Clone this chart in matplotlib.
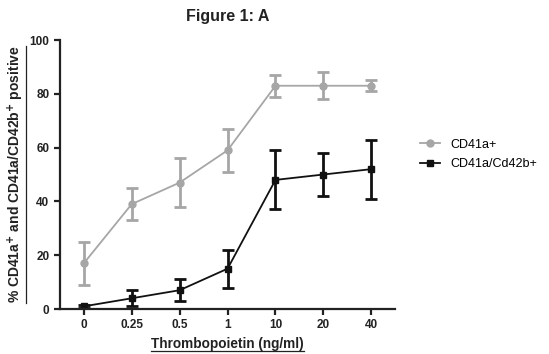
import matplotlib
matplotlib.use('Agg')
from matplotlib import pyplot as plt
from matplotlib.lines import Line2D

plt.rcParams['font.family'] = ['Liberation Sans', 'DejaVu Sans']

# data
doses = ['0', '0.25', '0.5', '1', '10', '20', '40']
cd41a = [17, 39, 47, 59, 83, 83, 83]
cd41a_err = [8, 6, 9, 8, 4, 5, 2]
cd42b = [1, 4, 7, 15, 48, 50, 52]
cd42b_err = [0.5, 3, 4, 7, 11, 8, 11]

xpos = list(range(len(doses)))

f = plt.figure(figsize=(5.49, 3.54), dpi=100)
ax = f.add_axes([0.109, 0.127, 0.611, 0.76])

gray = '#a6a6a6'
dark = '#111111'
ax.errorbar(xpos, cd41a, yerr=cd41a_err, color=gray, marker='o', ms=5,
            lw=1.3, elinewidth=2, capsize=4, capthick=2)
ax.errorbar(xpos, cd42b, yerr=cd42b_err, color=dark, marker='s', ms=5,
            lw=1.3, elinewidth=2, capsize=4, capthick=2)

ax.set_xlim(-0.5, 6.5)
ax.set_ylim(0, 100)
ax.set_xticks(xpos)
ax.set_xticklabels(doses)
ax.set_yticks([0, 20, 40, 60, 80, 100])
for s in ['top', 'right']:
    ax.spines[s].set_visible(False)
for s in ['left', 'bottom']:
    ax.spines[s].set_linewidth(1.6)
    ax.spines[s].set_color('#222222')
ax.tick_params(axis='both', direction='out', width=1.6, length=4,
               labelsize=8.5, colors='#222222')
for lab in ax.get_xticklabels() + ax.get_yticklabels():
    lab.set_fontweight('bold')

xl = ax.set_xlabel('Thrombopoietin (ng/ml)', fontsize=9.8, fontweight='bold',
                   color='#222222', labelpad=4)
yl = ax.set_ylabel(r'% CD41a$^\mathbf{+}$ and CD41a/CD42b$^\mathbf{+}$ positive',
                   fontsize=10, fontweight='bold', color='#222222')
ax.yaxis.set_label_coords(-0.102, 0.5)

f.suptitle('Figure 1: A', fontsize=11.5, fontweight='bold', x=0.415, y=0.975,
           color='#222222')

handles = [Line2D([], [], color=gray, marker='o', ms=5, lw=1.3),
           Line2D([], [], color=dark, marker='s', ms=5, lw=1.3)]
ax.legend(handles, ['CD41a+', 'CD41a/Cd42b+'], loc='center left',
          bbox_to_anchor=(1.04, 0.575), frameon=False, fontsize=9,
          handlelength=1.6, labelspacing=0.6)

# underline the axis labels
f.canvas.draw()
inv = f.transFigure.inverted()
bb = xl.get_window_extent()
(x0, y0), (x1, y1) = inv.transform([[bb.x0, bb.y0], [bb.x1, bb.y1]])
f.add_artist(Line2D([x0, x1], [y0, y0], transform=f.transFigure,
                    color='#222222', lw=0.9))
bb = yl.get_window_extent()
(x0, y0), (x1, y1) = inv.transform([[bb.x0, bb.y0], [bb.x1, bb.y1]])
f.add_artist(Line2D([x1, x1], [y0, y1], transform=f.transFigure,
                    color='#222222', lw=0.9))

plt.savefig('out.png', dpi=100)
